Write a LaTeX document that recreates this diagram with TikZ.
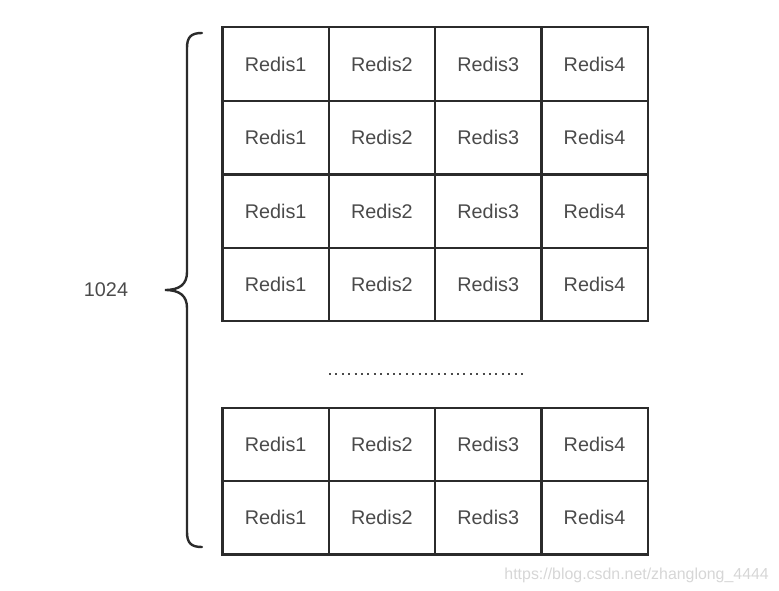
\documentclass[tikz,border=0pt]{standalone}
\usepackage{fontspec}
\setmainfont{Liberation Sans}
\definecolor{linec}{HTML}{2B2B2B}
\definecolor{textc}{HTML}{4A4A4A}
\definecolor{wmark}{HTML}{D6D6D6}
\tikzset{
  cell/.style={draw=linec, line width=2.4bp, minimum width=106.3bp, minimum height=73.5bp,
    inner sep=0pt, text=textc, font=\fontsize{19.8bp}{22bp}\selectfont},
  bracestyle/.style={draw=linec, line width=2.4bp, line cap=round},
  dotline/.style={draw=textc, line width=2.2bp, dash pattern=on 2bp off 4.4bp}
}
\begin{document}
\begin{tikzpicture}[x=1bp,y=-1bp]
\useasboundingbox (0,0) rectangle (779,591);
% top block
\foreach \r/\yc in {1/64, 2/137.75, 3/211.25, 4/284.5}{
  \foreach \c in {1,2,3,4}{
    \node[cell] (t\r\c) at ({222.5+106.3*(\c-0.5)},\yc) {Redis\c};
  }
}
% bottom block
\foreach \r/\yc in {1/444.5, 2/517.75}{
  \foreach \c in {1,2,3,4}{
    \node[cell, minimum height=73.2bp] (b\r\c) at ({222.5+106.3*(\c-0.5)},\yc) {Redis\c};
  }
}
% dotted separator
\coordinate (d1) at (329,374);
\coordinate (d2) at (524,374);
\draw[dotline] (d1) -- (d2);
% brace
\coordinate (btop) at (202,33);
\coordinate (btip) at (165,290);
\coordinate (bbot) at (202,547);
\draw[bracestyle] (btop) .. controls (191,33) and (187,37) .. (187,48) -- (187,272)
  .. controls (187,284) and (180,290) .. (btip)
  .. controls (180,290) and (187,296) .. (187,308) -- (187,532)
  .. controls (187,543) and (191,547) .. (bbot);
\node[text=textc, font=\fontsize{19.8bp}{22bp}\selectfont] (lbl) at (106,290) {1024};
% watermark
\node[text=wmark, font=\fontsize{15.9bp}{18bp}\selectfont, anchor=base east, inner sep=0pt] (wm) at (769,579) {https://blog.csdn.net/zhanglong\_4444};
\end{tikzpicture}
\end{document}
